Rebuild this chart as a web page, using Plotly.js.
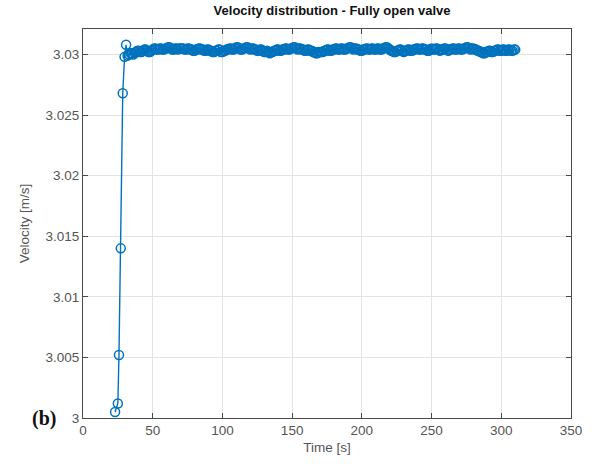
<!DOCTYPE html>
<html>
<head>
<meta charset="utf-8">
<script src="https://cdn.plot.ly/plotly-3.0.1.min.js"></script>
<style>html,body{margin:0;padding:0;background:#fff;}#chart{width:593px;height:468px;}</style>
</head>
<body>
<div id="chart"></div>
<script>
const rampTime = [23, 25, 25.8, 27.1, 28.5, 29.8, 30.9];
const rampVel = [3.0005, 3.0012, 3.0052, 3.0140, 3.0268, 3.0298, 3.0308];

const plateauTime = [
  32,33,34,35,36,37,38,39,40,41,42,43,44,45,46,47,48,49,50,51,
  52,53,54,55,56,57,58,59,60,61,62,63,64,65,66,67,68,69,70,71,
  72,73,74,75,76,77,78,79,80,81,82,83,84,85,86,87,88,89,90,91,
  92,93,94,95,96,97,98,99,100,101,102,103,104,105,106,107,108,109,110,111,
  112,113,114,115,116,117,118,119,120,121,122,123,124,125,126,127,128,129,130,131,
  132,133,134,135,136,137,138,139,140,141,142,143,144,145,146,147,148,149,150,151,
  152,153,154,155,156,157,158,159,160,161,162,163,164,165,166,167,168,169,170,171,
  172,173,174,175,176,177,178,179,180,181,182,183,184,185,186,187,188,189,190,191,
  192,193,194,195,196,197,198,199,200,201,202,203,204,205,206,207,208,209,210,211,
  212,213,214,215,216,217,218,219,220,221,222,223,224,225,226,227,228,229,230,231,
  232,233,234,235,236,237,238,239,240,241,242,243,244,245,246,247,248,249,250,251,
  252,253,254,255,256,257,258,259,260,261,262,263,264,265,266,267,268,269,270,271,
  272,273,274,275,276,277,278,279,280,281,282,283,284,285,286,287,288,289,290,291,
  292,293,294,295,296,297,298,299,300,301,302,303,304,305,306,307,308,309,310
];
const plateauVel = [
  3.0299,3.0300,3.0301,3.0301,3.0300,3.0301,3.0302,3.0303,3.0303,3.0302,3.0302,3.0303,3.0304,3.0304,3.0303,3.0302,3.0302,3.0303,3.0304,3.0305,
  3.0305,3.0304,3.0304,3.0305,3.0305,3.0304,3.0304,3.0305,3.0305,3.0306,3.0306,3.0305,3.0304,3.0304,3.0305,3.0305,3.0304,3.0305,3.0305,3.0305,
  3.0305,3.0304,3.0304,3.0305,3.0305,3.0304,3.0304,3.0303,3.0303,3.0304,3.0304,3.0305,3.0305,3.0304,3.0304,3.0303,3.0303,3.0304,3.0304,3.0303,
  3.0303,3.0302,3.0302,3.0303,3.0303,3.0304,3.0304,3.0302,3.0302,3.0303,3.0303,3.0304,3.0304,3.0305,3.0305,3.0304,3.0304,3.0305,3.0306,3.0306,
  3.0305,3.0304,3.0304,3.0305,3.0305,3.0306,3.0306,3.0305,3.0304,3.0305,3.0305,3.0304,3.0304,3.0303,3.0303,3.0304,3.0304,3.0303,3.0302,3.0302,
  3.0303,3.0302,3.0301,3.0302,3.0302,3.0303,3.0303,3.0304,3.0304,3.0303,3.0303,3.0304,3.0304,3.0305,3.0305,3.0304,3.0304,3.0305,3.0305,3.0306,
  3.0306,3.0305,3.0304,3.0305,3.0305,3.0304,3.0304,3.0303,3.0303,3.0304,3.0304,3.0303,3.0303,3.0302,3.0302,3.0301,3.0301,3.0302,3.0302,3.0302,
  3.0302,3.0303,3.0303,3.0304,3.0304,3.0303,3.0303,3.0304,3.0304,3.0305,3.0305,3.0304,3.0304,3.0305,3.0305,3.0304,3.0304,3.0305,3.0305,3.0306,
  3.0306,3.0305,3.0304,3.0305,3.0305,3.0304,3.0304,3.0303,3.0303,3.0304,3.0304,3.0305,3.0305,3.0304,3.0304,3.0305,3.0305,3.0304,3.0304,3.0305,
  3.0305,3.0304,3.0304,3.0305,3.0305,3.0306,3.0306,3.0305,3.0304,3.0303,3.0303,3.0302,3.0302,3.0303,3.0303,3.0304,3.0304,3.0303,3.0302,3.0303,
  3.0303,3.0304,3.0304,3.0303,3.0303,3.0304,3.0304,3.0305,3.0305,3.0304,3.0304,3.0305,3.0305,3.0304,3.0304,3.0303,3.0303,3.0304,3.0305,3.0304,
  3.0304,3.0305,3.0305,3.0304,3.0303,3.0304,3.0304,3.0305,3.0305,3.0304,3.0303,3.0304,3.0304,3.0305,3.0305,3.0304,3.0304,3.0305,3.0305,3.0304,
  3.0304,3.0305,3.0305,3.0306,3.0306,3.0305,3.0304,3.0305,3.0305,3.0304,3.0304,3.0303,3.0303,3.0302,3.0302,3.0301,3.0301,3.0302,3.0302,3.0303,
  3.0303,3.0302,3.0302,3.0303,3.0303,3.0304,3.0304,3.0303,3.0303,3.0304,3.0304,3.0303,3.0303,3.0304,3.0304,3.0303,3.0303,3.0304,3.0304
];

const timeAll = rampTime.concat(plateauTime);
const velAll = rampVel.concat(plateauVel);

const xTickVals = [0, 50, 100, 150, 200, 250, 300, 350];
const xTickText = ['0', '50', '100', '150', '200', '250', '300', '350'];
const yTickVals = [3, 3.005, 3.01, 3.015, 3.02, 3.025, 3.03];
const yTickText = ['3', '3.005', '3.01', '3.015', '3.02', '3.025', '3.03'];

const blue = '#0072BD';
const trace = {
  x: timeAll, y: velAll, type: 'scatter', mode: 'lines+markers',
  line: {color: blue, width: 1.4},
  marker: {symbol: 'circle-open', size: 9, color: blue, line: {width: 1.5, color: blue}},
  hoverinfo: 'skip'
};

const axisCommon = {
  showline: true, mirror: 'ticks', linecolor: '#4a4a4a', linewidth: 1,
  ticks: 'inside', ticklen: 5, tickcolor: '#4a4a4a',
  showgrid: true, gridcolor: '#e3e3e3', gridwidth: 1, zeroline: false,
  tickfont: {family: 'Liberation Sans, Arial, sans-serif', size: 13.5, color: '#555555'},
  tickmode: 'array'
};

const layout = {
  width: 593, height: 468,
  margin: {l: 83, r: 22, t: 29, b: 50},
  paper_bgcolor: '#ffffff', plot_bgcolor: '#ffffff',
  showlegend: false,
  title: {text: '<b>Velocity distribution - Fully open valve</b>', x: 0.56, xanchor: 'center', y: 0.988, yanchor: 'top',
    font: {family: 'Liberation Sans, Arial, sans-serif', size: 13, color: '#111111'}},
  xaxis: Object.assign({}, axisCommon, {
    range: [0, 350], tickvals: xTickVals, ticktext: xTickText,
    title: {text: 'Time [s]', standoff: 5, font: {family: 'Liberation Sans, Arial, sans-serif', size: 13.5, color: '#555555'}}
  }),
  yaxis: Object.assign({}, axisCommon, {
    range: [3, 3.0321], tickvals: yTickVals, ticktext: yTickText,
    title: {text: 'Velocity [m/s]', standoff: 12, font: {family: 'Liberation Sans, Arial, sans-serif', size: 13.5, color: '#555555'}}
  }),
  annotations: [{
    text: '<b>(b)</b>', xref: 'paper', yref: 'paper', x: -0.108, y: 0.0, xanchor: 'left', yanchor: 'middle',
    showarrow: false, font: {family: 'Liberation Serif, Times New Roman, serif', size: 20, color: '#111111'}
  }]
};

Plotly.newPlot('chart', [trace], layout, {staticPlot: true, displayModeBar: false});
</script>
</body>
</html>
